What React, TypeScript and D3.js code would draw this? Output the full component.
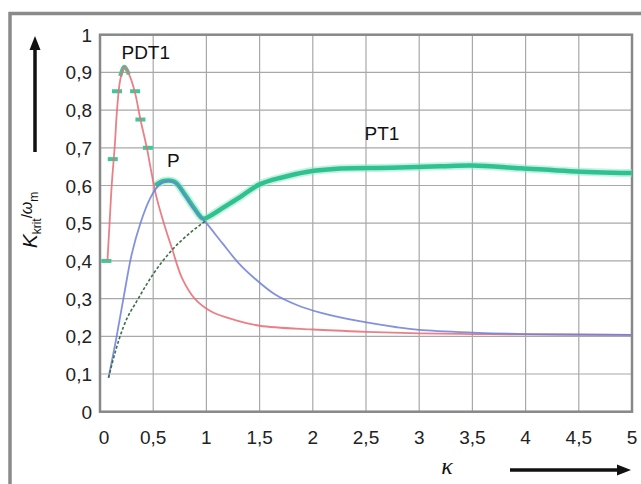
import React from "react";
import * as d3 from "d3";

const X_TICKS = [0, 0.5, 1, 1.5, 2, 2.5, 3, 3.5, 4, 4.5, 5];
const Y_TICKS = [0, 0.1, 0.2, 0.3, 0.4, 0.5, 0.6, 0.7, 0.8, 0.9, 1];

// PDT1 (red)
const PDT1: [number, number][] = [
  [0.07, 0.4], [0.09, 0.5], [0.11, 0.6], [0.14, 0.71], [0.16, 0.8], [0.19, 0.88], [0.23, 0.915],
  [0.28, 0.89], [0.33, 0.845], [0.38, 0.775], [0.44, 0.7], [0.49, 0.625], [0.53, 0.57],
  [0.6, 0.5], [0.68, 0.43], [0.77, 0.355], [0.89, 0.3], [1.05, 0.265], [1.27, 0.243],
  [1.5, 0.228], [2.0, 0.218], [2.5, 0.212], [3.0, 0.208], [3.5, 0.206], [4.0, 0.205], [5.0, 0.204],
];

// P (blue)
const P: [number, number][] = [
  [0.08, 0.09], [0.15, 0.19], [0.22, 0.3], [0.3, 0.42], [0.38, 0.5], [0.47, 0.565],
  [0.55, 0.6], [0.63, 0.612], [0.72, 0.605], [0.8, 0.572], [0.89, 0.535], [1.0, 0.5],
  [1.15, 0.447], [1.3, 0.395], [1.46, 0.352], [1.65, 0.31], [1.85, 0.283], [2.07, 0.263],
  [2.44, 0.24], [2.79, 0.224], [3.0, 0.217], [3.5, 0.21], [4.0, 0.206], [5.0, 0.204],
];

// PT1 (thin dark green, rising part)
const PT1: [number, number][] = [
  [0.08, 0.09], [0.15, 0.165], [0.22, 0.225], [0.36, 0.3], [0.5, 0.365], [0.68, 0.43],
  [0.85, 0.475], [1.0, 0.508],
];

// thick green envelope (solid part)
const ENV_SOLID: [number, number][] = [
  [0.52, 0.6], [0.6, 0.612], [0.7, 0.61], [0.8, 0.575], [0.89, 0.538], [0.97, 0.512],
  [1.05, 0.522], [1.15, 0.54], [1.32, 0.57], [1.5, 0.603], [1.72, 0.622], [1.94, 0.636],
  [2.26, 0.645], [2.73, 0.647], [3.2, 0.651], [3.5, 0.653], [3.95, 0.646], [4.42, 0.638], [5.0, 0.633],
];

// green marks on PDT1
const ENV_MARKS: [number, number][] = [
  [0.06, 0.4], [0.12, 0.67], [0.16, 0.85], [0.33, 0.85], [0.38, 0.775], [0.45, 0.7],
];
const ENV_PEAK: [number, number][] = [[0.19, 0.89], [0.23, 0.915], [0.27, 0.895]];

const LABELS = [
  { text: "PDT1", k: 0.43, v: 0.935 },
  { text: "P", k: 0.69, v: 0.65 },
  { text: "PT1", k: 2.65, v: 0.72 },
];

export default function App() {
  const W = 641, H = 484;
  const x = d3.scaleLinear().domain([0, 5]).range([100, 632]);
  const y = d3.scaleLinear().domain([0, 1]).range([411.7, 34.7]);
  const line = d3.line<[number, number]>().x(d => x(d[0])).y(d => y(d[1])).curve(d3.curveMonotoneX);
  const lineC = d3.line<[number, number]>().x(d => x(d[0])).y(d => y(d[1])).curve(d3.curveCatmullRom);
  const font = "'Liberation Sans', Arial, sans-serif";
  const fmt = (v: number) => String(v).replace(".", ",");

  return (
    <svg width={W} height={H} style={{ position: "absolute", left: 0, top: 0 }}>
      <rect x={0} y={0} width={W} height={H} fill="#fff" />
      <rect x={10} y={13.5} width={720} height={600} fill="none" stroke="#8a8a8a" strokeWidth={3.5} />
      {/* grid */}
      {X_TICKS.map(t => (
        <line key={"gx" + t} x1={x(t)} x2={x(t)} y1={y(1)} y2={y(0)} stroke="#a8a8a8" strokeWidth={1.2} />
      ))}
      {Y_TICKS.map(t => (
        <line key={"gy" + t} x1={x(0)} x2={x(5)} y1={y(t)} y2={y(t)} stroke="#a8a8a8" strokeWidth={1.2} />
      ))}
      <rect x={x(0)} y={y(1)} width={x(5) - x(0)} height={y(0) - y(1)} fill="none" stroke="#888" strokeWidth={2.5} />
      {/* curves */}
      <path d={lineC(ENV_SOLID) || ""} fill="none" stroke="#8ee8cc" strokeWidth={8} strokeOpacity={0.55} />
      <path d={lineC(ENV_SOLID) || ""} fill="none" stroke="#30c190" strokeWidth={4.5} />
      {ENV_MARKS.map((d, i) => (
        <line key={"m" + i} x1={x(d[0]) - 5} x2={x(d[0]) + 5} y1={y(d[1])} y2={y(d[1])} stroke="#3cc898" strokeWidth={4} />
      ))}
      <path d={line(ENV_PEAK) || ""} fill="none" stroke="#3cc898" strokeWidth={4} />
      <path d={lineC(PDT1) || ""} fill="none" stroke="#e8727a" strokeWidth={1.8} strokeOpacity={0.9} />
      <path d={lineC(P) || ""} fill="none" stroke="#6f7fd8" strokeWidth={1.8} strokeOpacity={0.85} />
      <path d={line(PT1) || ""} fill="none" stroke="#3f6e48" strokeWidth={1.6} strokeDasharray="3 2" />
      {/* tick labels */}
      {X_TICKS.map(t => (
        <text key={"tx" + t} x={x(t) + (t === 0 ? 4 : 0)} y={444} textAnchor="middle" fontFamily={font} fontSize={19} fill="#222">{fmt(t)}</text>
      ))}
      {Y_TICKS.map(t => (
        <text key={"ty" + t} x={92} y={y(t) + 7} textAnchor="end" fontFamily={font} fontSize={19} fill="#222">{fmt(t)}</text>
      ))}
      {LABELS.map(l => (
        <text key={l.text} x={x(l.k)} y={y(l.v)} textAnchor="middle" fontFamily={font} fontSize={19} fill="#111">{l.text}</text>
      ))}
      {/* y axis label */}
      <text transform="translate(37,220) rotate(-90)" textAnchor="middle" fontFamily={font} fill="#111">
        <tspan fontSize={21} fontStyle="italic">K</tspan>
        <tspan fontSize={12} dy={4}>krit</tspan>
        <tspan fontSize={15} dy={-9}>/</tspan>
        <tspan fontSize={16} fontStyle="italic">ω</tspan>
        <tspan fontSize={12} dy={6}>m</tspan>
      </text>
      {/* arrows */}
      <line x1={35} x2={35} y1={152} y2={48} stroke="#111" strokeWidth={3.5} />
      <path d="M35,36 L29.5,50 L40.5,50 Z" fill="#111" />
      <line x1={510} x2={620} y1={470} y2={470} stroke="#111" strokeWidth={3.5} />
      <path d="M631,470 L617,464.5 L617,475.5 Z" fill="#111" />
      <text x={447} y={474} textAnchor="middle" fontFamily="'Liberation Serif', serif" fontStyle="italic" fontSize={24} fill="#111">κ</text>
    </svg>
  );
}
